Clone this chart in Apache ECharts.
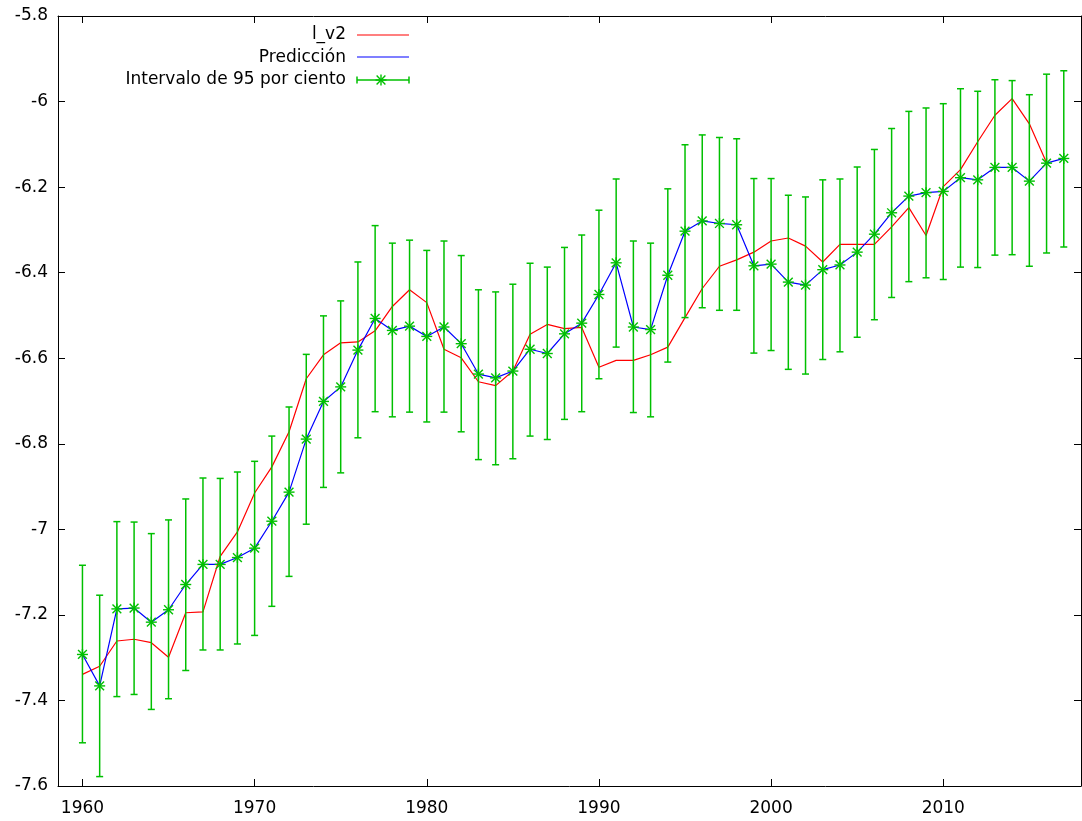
<!DOCTYPE html>
<html>
<head>
<meta charset="utf-8">
<script src="https://cdn.jsdelivr.net/npm/echarts@6/dist/echarts.min.js"></script>
<style>
  html, body { margin: 0; padding: 0; background: #fff; }
  #chart { width: 1082px; height: 821px; }
</style>
</head>
<body>
<div id="chart"></div>
<script>
const years = [];
for (let y = 1960; y <= 2017; y++) years.push(y);

const xTickLabels = [1960, 1970, 1980, 1990, 2000, 2010];

const seriesNames = ['l_v2', 'Predicción', 'Intervalo de 95 por ciento'];

const lv2 = [
  -7.339, -7.320, -7.261, -7.257, -7.265, -7.299, -7.195, -7.193, -7.063, -7.006,
  -6.915, -6.854, -6.772, -6.648, -6.592, -6.564, -6.562, -6.536, -6.479, -6.440,
  -6.470, -6.579, -6.599, -6.655, -6.664, -6.630, -6.544, -6.521, -6.531, -6.528,
  -6.621, -6.605, -6.605, -6.592, -6.574, -6.505, -6.437, -6.385, -6.370, -6.352,
  -6.326, -6.319, -6.338, -6.375, -6.334, -6.334, -6.334, -6.293, -6.248, -6.313,
  -6.199, -6.159, -6.094, -6.032, -5.993, -6.052, -6.143, null
];

const prediccion = [
  -7.2925, -7.366, -7.186, -7.184, -7.217, -7.188, -7.129, -7.082, -7.082, -7.066,
  -7.044, -6.981, -6.913, -6.789, -6.701, -6.667, -6.581, -6.507, -6.535, -6.525,
  -6.549, -6.527, -6.566, -6.637, -6.646, -6.630, -6.579, -6.589, -6.543, -6.518,
  -6.451, -6.377, -6.527, -6.533, -6.406, -6.303, -6.279, -6.285, -6.288, -6.384,
  -6.380, -6.422, -6.429, -6.393, -6.382, -6.352, -6.310, -6.260, -6.221, -6.213,
  -6.210, -6.178, -6.183, -6.154, -6.154, -6.186, -6.144, -6.133
];

const upper = [
  -7.084, -7.154, -6.982, -6.983, -7.010, -6.978, -6.929, -6.880, -6.881, -6.866,
  -6.841, -6.782, -6.714, -6.591, -6.501, -6.466, -6.375, -6.290, -6.331, -6.324,
  -6.348, -6.326, -6.360, -6.440, -6.445, -6.427, -6.378, -6.387, -6.341, -6.312,
  -6.254, -6.181, -6.326, -6.331, -6.204, -6.101, -6.078, -6.084, -6.087, -6.180,
  -6.180, -6.219, -6.223, -6.183, -6.181, -6.153, -6.112, -6.063, -6.023, -6.015,
  -6.005, -5.970, -5.976, -5.949, -5.951, -5.984, -5.936, -5.928
];

const lower = [
  -7.499, -7.578, -7.391, -7.386, -7.421, -7.396, -7.330, -7.282, -7.282, -7.268,
  -7.248, -7.180, -7.110, -6.988, -6.902, -6.868, -6.786, -6.725, -6.737, -6.726,
  -6.749, -6.726, -6.772, -6.837, -6.849, -6.835, -6.782, -6.790, -6.743, -6.725,
  -6.648, -6.574, -6.727, -6.737, -6.609, -6.505, -6.482, -6.488, -6.488, -6.588,
  -6.582, -6.626, -6.637, -6.603, -6.585, -6.551, -6.510, -6.458, -6.421, -6.412,
  -6.416, -6.387, -6.388, -6.359, -6.358, -6.385, -6.354, -6.340
];

const RED = '#ff0000', BLUE = '#0000ff', GREEN = '#00c000';
const FONT = 'DejaVu Sans';
const X_MIN = 1958.58, X_MAX = 2018;
const Y_MIN = -7.6, Y_MAX = -5.8, Y_STEP = 0.2;

const chart = echarts.init(document.getElementById('chart'), null, { renderer: 'canvas' });

function starChildren(cx, cy, s, style) {
  const d = s * 0.8;
  return [
    { type: 'line', shape: { x1: cx - s, y1: cy, x2: cx + s, y2: cy }, style },
    { type: 'line', shape: { x1: cx, y1: cy - s, x2: cx, y2: cy + s }, style },
    { type: 'line', shape: { x1: cx - d, y1: cy - d, x2: cx + d, y2: cy + d }, style },
    { type: 'line', shape: { x1: cx - d, y1: cy + d, x2: cx + d, y2: cy - d }, style }
  ];
}

const errData = years.map((y, i) => [y, lower[i], upper[i], prediccion[i]]);

const axisTextStyle = { color: '#000', fontSize: 17, fontFamily: FONT };
const axisLineStyle = { color: '#000', width: 1 };

const legendX = 346, lineX1 = 357, lineX2 = 409;
const legendY = [35, 57.5, 80];
const legendLineY = [35, 57, 80];
const gStroke = (c, w) => ({ stroke: c, lineWidth: w || 1.2 });

const graphics = [];
[0, 1, 2].forEach(i => {
  graphics.push({
    type: 'text', x: legendX, y: legendY[i],
    style: { text: seriesNames[i], fill: '#000', font: '17px "' + FONT + '"', textAlign: 'right', textVerticalAlign: 'middle' }
  });
});
graphics.push({ type: 'line', shape: { x1: lineX1, y1: legendLineY[0], x2: lineX2, y2: legendLineY[0] }, style: gStroke(RED) });
graphics.push({ type: 'line', shape: { x1: lineX1, y1: legendLineY[1], x2: lineX2, y2: legendLineY[1] }, style: gStroke(BLUE) });
graphics.push({ type: 'line', shape: { x1: lineX1, y1: legendLineY[2], x2: lineX2, y2: legendLineY[2] }, style: gStroke(GREEN, 1.5) });
graphics.push({ type: 'line', shape: { x1: lineX1, y1: legendLineY[2] - 3.5, x2: lineX1, y2: legendLineY[2] + 3.5 }, style: gStroke(GREEN, 1.5) });
graphics.push({ type: 'line', shape: { x1: lineX2, y1: legendLineY[2] - 3.5, x2: lineX2, y2: legendLineY[2] + 3.5 }, style: gStroke(GREEN, 1.5) });
starChildren((lineX1 + lineX2) / 2 - 2, legendLineY[2], 5.5, gStroke(GREEN, 1.4)).forEach(c => graphics.push(c));

const option = {
  backgroundColor: '#fff',
  animation: false,
  grid: { left: 58, right: 1, top: 16, bottom: 35, containLabel: false },
  xAxis: [
    {
      type: 'value', position: 'bottom', min: X_MIN, max: X_MAX,
      axisLine: { show: true, onZero: false, lineStyle: axisLineStyle },
      axisTick: { show: true, inside: true, length: 7, lineStyle: axisLineStyle, customValues: xTickLabels },
      axisLabel: { show: true, margin: 14, customValues: xTickLabels, formatter: v => String(v), ...axisTextStyle },
      splitLine: { show: false }
    },
    {
      type: 'value', position: 'top', min: X_MIN, max: X_MAX,
      axisLine: { show: true, onZero: false, lineStyle: axisLineStyle },
      axisTick: { show: true, inside: true, length: 7, lineStyle: axisLineStyle, customValues: xTickLabels },
      axisLabel: { show: false, customValues: xTickLabels },
      splitLine: { show: false }
    }
  ],
  yAxis: [
    {
      type: 'value', position: 'left', min: Y_MIN, max: Y_MAX, interval: Y_STEP,
      axisLine: { show: true, onZero: false, lineStyle: axisLineStyle },
      axisTick: { show: true, inside: true, length: 7, lineStyle: axisLineStyle },
      axisLabel: { show: true, margin: 10, formatter: v => String(Math.round(v * 10) / 10), ...axisTextStyle },
      splitLine: { show: false }
    },
    {
      type: 'value', position: 'right', min: Y_MIN, max: Y_MAX, interval: Y_STEP,
      axisLine: { show: true, onZero: false, lineStyle: axisLineStyle },
      axisTick: { show: true, inside: true, length: 7, lineStyle: axisLineStyle },
      axisLabel: { show: false },
      splitLine: { show: false }
    }
  ],
  series: [
    {
      name: seriesNames[0], type: 'line', xAxisIndex: 0, yAxisIndex: 0,
      data: years.map((y, i) => [y, lv2[i]]),
      showSymbol: false, connectNulls: false,
      lineStyle: { color: RED, width: 1.2 }, itemStyle: { color: RED }, z: 2
    },
    {
      name: seriesNames[1], type: 'line', xAxisIndex: 0, yAxisIndex: 0,
      data: years.map((y, i) => [y, prediccion[i]]),
      showSymbol: false,
      lineStyle: { color: BLUE, width: 1.2 }, itemStyle: { color: BLUE }, z: 3
    },
    {
      name: seriesNames[2], type: 'custom', xAxisIndex: 0, yAxisIndex: 0,
      data: errData,
      encode: { x: 0, y: [1, 2, 3] },
      z: 4,
      renderItem: function (params, api) {
        const lo = api.coord([api.value(0), api.value(1)]);
        const hi = api.coord([api.value(0), api.value(2)]);
        const pr = api.coord([api.value(0), api.value(3)]);
        const cx = pr[0];
        const st = { stroke: GREEN, lineWidth: 1.5 };
        const cap = 3.5;
        const children = [
          { type: 'line', shape: { x1: cx, y1: hi[1], x2: cx, y2: lo[1] }, style: st },
          { type: 'line', shape: { x1: cx - cap, y1: hi[1], x2: cx + cap, y2: hi[1] }, style: st },
          { type: 'line', shape: { x1: cx - cap, y1: lo[1], x2: cx + cap, y2: lo[1] }, style: st }
        ].concat(starChildren(cx, pr[1], 5.5, { stroke: GREEN, lineWidth: 1.4 }));
        return { type: 'group', children };
      }
    }
  ],
  graphic: graphics
};

chart.setOption(option);
</script>
</body>
</html>
